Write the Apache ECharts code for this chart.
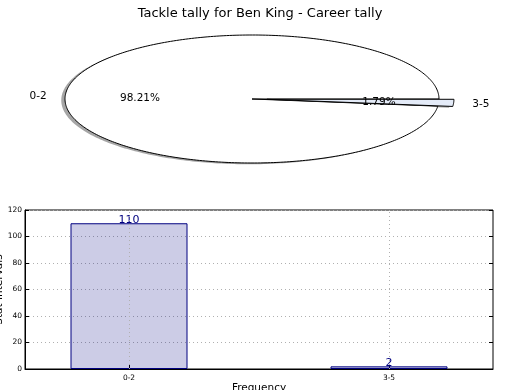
<!DOCTYPE html>
<html>
<head>
<meta charset="utf-8">
<script src="https://cdn.jsdelivr.net/npm/echarts@6/dist/echarts.min.js"></script>
<style>
html,body{margin:0;padding:0;background:#fff;}
#chart{width:520px;height:390px;}
</style>
</head>
<body>
<div id="chart"></div>
<script>
// ---- data ----
const titleText = 'Tackle tally for Ben King - Career tally';
const categories = ['0-2', '3-5'];
const tackles = [110, 2];
const explode = [0, 0.08];
const sliceColors = ['#ffffff', '#e4ebf8'];
const yTicks = [0, 20, 40, 60, 80, 100, 120];

const FONT = 'DejaVu Sans';
const total = tackles.reduce((a, b) => a + b, 0);

function renderSlice(params, api) {
  const i = params.dataIndex;
  let cum = 0;
  for (let k = 0; k < i; k++) cum += tackles[k];
  const a0 = 2 * Math.PI * cum / total;
  const a1 = 2 * Math.PI * (cum + tackles[i]) / total;
  const mid = (a0 + a1) / 2;
  const ox = explode[i] * Math.cos(mid);
  const oy = explode[i] * Math.sin(mid);
  const n = Math.max(2, Math.ceil((a1 - a0) / (2 * Math.PI) * 360));
  const pts = [api.coord([ox, oy])];
  for (let s = 0; s <= n; s++) {
    const a = a0 + (a1 - a0) * s / n;
    pts.push(api.coord([ox + Math.cos(a), oy + Math.sin(a)]));
  }
  const c0 = api.coord([0, 0]);
  const c1 = api.coord([0.02, 0.02]);
  const sx = -(c1[0] - c0[0]);
  const sy = -(c1[1] - c0[1]);
  const shadowPts = pts.map(p => [p[0] + sx, p[1] + sy]);
  const lp = api.coord([ox + 1.1 * Math.cos(mid), oy + 1.1 * Math.sin(mid)]);
  const pp = api.coord([ox + 0.6 * Math.cos(mid), oy + 0.6 * Math.sin(mid)]);
  const pct = (100 * tackles[i] / total).toFixed(2) + '%';
  return {
    type: 'group',
    children: [
      { type: 'polygon', z2: 1, shape: { points: shadowPts },
        style: { fill: 'rgba(77,77,77,0.5)', stroke: 'none' } },
      { type: 'polygon', z2: 10, shape: { points: pts },
        style: { fill: sliceColors[i], stroke: '#000', lineWidth: 1 } },
      { type: 'text', z2: 20, x: lp[0], y: lp[1] + 1,
        style: { text: categories[i], fill: '#000', font: '10.5px "' + FONT + '"',
          align: Math.cos(mid) < 0 ? 'right' : 'left', verticalAlign: 'middle' } },
      { type: 'text', z2: 20, x: pp[0], y: pp[1] + 1,
        style: { text: pct, fill: '#000', font: '10.5px "' + FONT + '"',
          align: 'center', verticalAlign: 'middle' } }
    ]
  };
}

const chart = echarts.init(document.getElementById('chart'), null, { renderer: 'canvas' });
chart.setOption({
  animation: false,
  backgroundColor: '#fff',
  textStyle: { fontFamily: FONT },
  title: {
    text: titleText, left: 'center', top: 2,
    textStyle: { fontFamily: FONT, fontSize: 13, fontWeight: 'normal', color: '#000' }
  },
  grid: [
    { left: 65, top: 35, width: 374, height: 128, show: false, containLabel: false, outerBoundsMode: 'none' },
    { left: 25, top: 210, right: 27, bottom: 21, show: true, borderColor: '#000', borderWidth: 1,
      backgroundColor: 'transparent', containLabel: false, outerBoundsMode: 'none' }
  ],
  xAxis: [
    { gridIndex: 0, type: 'value', min: -1, max: 1, show: false },
    { gridIndex: 1, type: 'value', min: -0.4, max: 1.4,
      name: 'Frequency', nameLocation: 'middle', nameGap: 14, nameMoveOverlap: false,
      nameTextStyle: { fontFamily: FONT, fontSize: 10.5, color: '#000' },
      axisLine: { show: true, onZero: false, lineStyle: { color: '#000', width: 1 } },
      axisTick: { show: true, inside: true, length: 4, customValues: [0, 1], lineStyle: { color: '#000' } },
      axisLabel: { show: true, customValues: [0, 1], formatter: v => categories[Math.round(v)],
        fontFamily: FONT, fontSize: 7.5, color: '#000', margin: 5 },
      splitLine: { show: false } }
  ],
  yAxis: [
    { gridIndex: 0, type: 'value', min: -1, max: 1, show: false },
    { gridIndex: 1, type: 'value', min: 0, max: 120, interval: 20,
      name: 'Stat Intervals', nameLocation: 'middle', nameGap: 20, nameMoveOverlap: false,
      nameTextStyle: { fontFamily: FONT, fontSize: 10.5, color: '#000' },
      axisLine: { show: true, onZero: false, lineStyle: { color: '#000', width: 1 } },
      axisTick: { show: true, inside: true, length: 4, lineStyle: { color: '#000' } },
      axisLabel: { show: true, fontFamily: FONT, fontSize: 7.5, color: '#000', margin: 3,
        customValues: yTicks },
      splitLine: { show: true, lineStyle: { color: '#b0b0b0', type: [1, 3], width: 1 } } },
    { gridIndex: 1, type: 'value', min: 0, max: 120, interval: 20, position: 'right',
      axisLine: { show: false, onZero: false },
      axisTick: { show: true, inside: true, length: 4, lineStyle: { color: '#000' } },
      axisLabel: { show: false }, splitLine: { show: false } }
  ],
  series: [
    { type: 'custom', coordinateSystem: 'cartesian2d', xAxisIndex: 0, yAxisIndex: 0,
      clip: false, renderItem: renderSlice, data: tackles.map((v, i) => [i, v]) },
    { type: 'bar', xAxisIndex: 1, yAxisIndex: 1, barWidth: 117,
      data: tackles.map((v, i) => [i, v]),
      itemStyle: { color: 'rgba(0,0,128,0.2)', borderColor: '#000080', borderWidth: 1 },
      label: { show: true, position: 'top', distance: -2, color: '#000080',
        fontFamily: FONT, fontSize: 11, formatter: p => String(p.value[1]) },
      markLine: { silent: true, symbol: 'none', label: { show: false },
        lineStyle: { color: '#b0b0b0', type: [1, 3], width: 1 },
        data: [{ xAxis: 0 }, { xAxis: 1 }] } }
  ]
});
</script>
</body>
</html>
